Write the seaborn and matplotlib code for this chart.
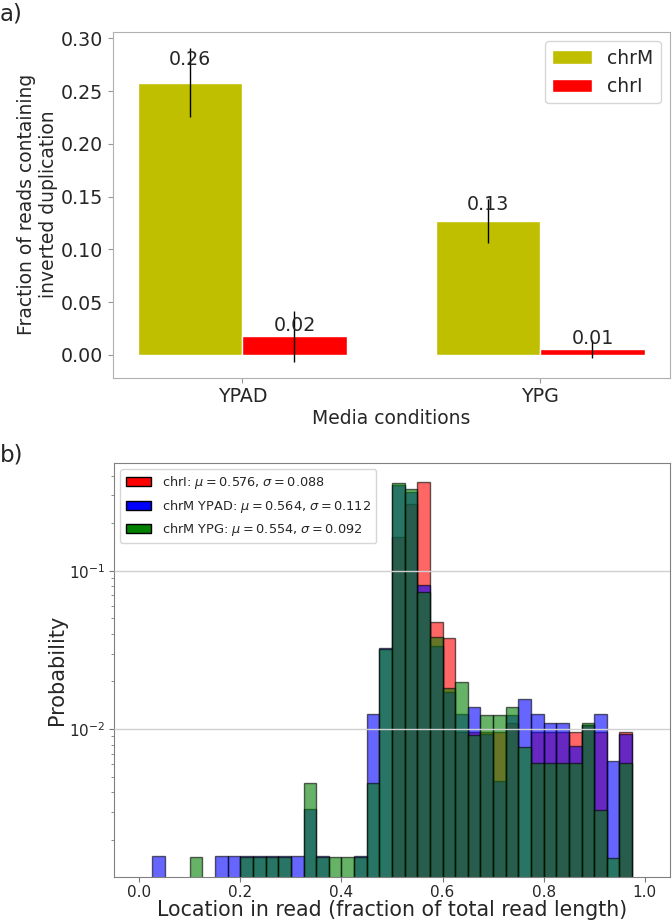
import numpy as np
import pandas as pd
import matplotlib
matplotlib.use('Agg')
import matplotlib.pyplot as plt
from matplotlib.patches import Patch
import seaborn as sns

# Panel a data
media = ['YPAD', 'YPG']
chroms = ['chrM', 'chrI']
frac_chrM = [0.258, 0.127]
frac_chrI = [0.0176, 0.006]
err_chrM = [0.033, 0.021]
err_chrI = [0.0243, 0.0085]

# Panel b data: probability per bin (bin width 0.025, 0..1)
bin_width = 0.025
prob_chrI = [0, 0, 0, 0, 0, 0, 0, 0, 0, 0,
             0, 0, 0, 0, 0, 0, 0, 0, 0, 0,
             0.1625, 0.265, 0.366, 0.0474, 0.0379, 0.0096, 0.0096, 0.0096, 0.0096, 0.0109,
             0, 0.0096, 0.0096, 0.0096, 0.0096, 0.0107, 0.0096, 0, 0.0096, 0]
prob_chrM_YPAD = [0, 0.00157, 0, 0, 0, 0, 0.00157, 0.00157, 0.00157, 0.00157,
                  0.00157, 0.00157, 0.00157, 0.00314, 0.00157, 0, 0, 0.00157, 0.0125, 0.0326,
                  0.349, 0.313, 0.0816, 0.0337, 0.0171, 0.0125, 0.0139, 0.0093, 0.0047, 0.0123,
                  0.0154, 0.0124, 0.0109, 0.0109, 0.0078, 0.0106, 0.0124, 0.0063, 0.0093, 0]
prob_chrM_YPG = [0, 0, 0, 0, 0.00155, 0, 0, 0, 0.00155, 0.00155,
                 0.00155, 0.00155, 0, 0.0046, 0.00155, 0.00155, 0.00155, 0.00155, 0.0046, 0.0322,
                 0.361, 0.328, 0.073, 0.0381, 0.0183, 0.0199, 0.0092, 0.0123, 0.0123, 0.0138,
                 0.0077, 0.0061, 0.0061, 0.0061, 0.0061, 0.0109, 0.0031, 0.00153, 0.0061, 0]
hist_labels = [r'chrI: $\mu=0.576$, $\sigma=0.088$',
               r'chrM YPAD: $\mu=0.564$, $\sigma=0.112$',
               r'chrM YPG: $\mu=0.554$, $\sigma=0.092$']
hist_colors = ['red', 'blue', 'green']

sns.set_style('ticks')
plt.rcParams['font.family'] = ['DejaVu Sans']
plt.rcParams['mathtext.fontset'] = 'dejavusans'

fig = plt.figure(figsize=(6.72, 9.23), dpi=100)
ax1 = fig.add_axes([0.1677, 0.5908, 0.8293, 0.3749])
ax2 = fig.add_axes([0.1696, 0.0498, 0.8274, 0.4489])

# ---- a) bar chart
df = pd.DataFrame({
    'media': media * 2,
    'chrom': ['chrM'] * 2 + ['chrI'] * 2,
    'frac': frac_chrM + frac_chrI,
})
sns.barplot(data=df, x='media', y='frac', hue='chrom', hue_order=chroms,
            order=media, palette={'chrM': 'y', 'chrI': 'r'}, width=0.7,
            errorbar=None, saturation=1, ax=ax1)
for container, errs in zip(ax1.containers, [err_chrM, err_chrI]):
    for bar, err in zip(container, errs):
        x = bar.get_x() + bar.get_width() / 2
        h = bar.get_height()
        ax1.errorbar(x, h, yerr=err, color='black', lw=1)
        ax1.text(x, h * 1.05 + 0.004, '%.2f' % h, ha='center', va='baseline', fontsize=13.7)
ax1.set_xlim(-0.435, 1.435)
ax1.set_ylim(-0.0215, 0.3063)
ax1.set_yticks(np.arange(0, 0.31, 0.05))
ax1.set_xlabel('Media conditions', fontsize=13.5, labelpad=2)
ax1.set_ylabel('Fraction of reads containing\ninverted duplication', fontsize=13.5, labelpad=2)
ax1.tick_params(labelsize=13.7, color='#999999', length=3.5)
for s in ax1.spines.values():
    s.set_color('#b0b0b0')
    s.set_visible(True)
ax1.legend(loc='upper right', fontsize=13.5, handlelength=2.1)

# ---- b) histograms
centers = np.arange(40) * bin_width + bin_width / 2
for probs, color in zip([prob_chrI, prob_chrM_YPAD, prob_chrM_YPG], hist_colors):
    hd = pd.DataFrame({'loc': centers, 'p': probs})
    hd = hd[hd['p'] > 0]
    sns.histplot(data=hd, x='loc', weights='p', bins=40, binrange=(0, 1), color=color,
                 alpha=0.6, edgecolor=(0, 0, 0, 0.6), linewidth=1, ax=ax2)
ax2.set_yscale('log')
ax2.set_xlim(-0.05, 1.05)
ax2.set_ylim(10 ** -2.934, 10 ** -0.317)
ax2.set_axisbelow(False)
ax2.yaxis.grid(True, which='major', color='#d0d0d0', lw=1)
ax2.set_xlabel('Location in read (fraction of total read length)', fontsize=14.8, labelpad=0)
ax2.set_ylabel('Probability', fontsize=15, labelpad=2)
ax2.tick_params(labelsize=11, color='#777777', pad=2.5)
ax2.tick_params(which='minor', color='#777777')
for s in ax2.spines.values():
    s.set_color('#808080')
    s.set_visible(True)
handles = [Patch(facecolor=c, edgecolor='black') for c in hist_colors]
ax2.legend(handles, hist_labels, loc='upper left', fontsize=9.3)

fig.text(0.0, 0.997, 'a)', fontsize=16.5, va='top', ha='left')
fig.text(0.0, 0.52, 'b)', fontsize=16.5, va='top', ha='left')

fig.savefig('out.png', dpi=100)
